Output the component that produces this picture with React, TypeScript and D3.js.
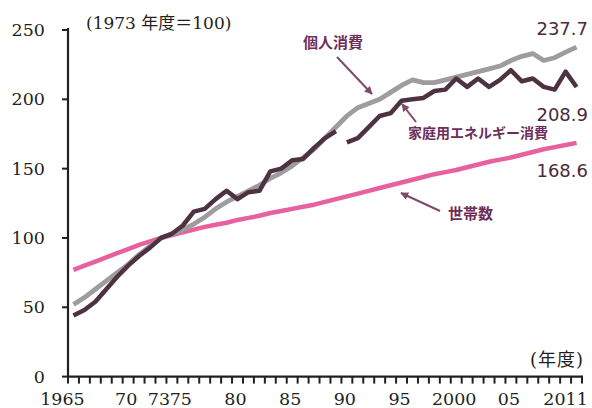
import React, { useEffect, useRef } from 'react'
import * as d3 from 'd3'

const years = d3.range(1965, 2012)

// 個人消費
const personal = [
  52, 57, 63, 69, 75, 81, 88, 94, 100, 103, 106, 110, 115, 121, 126, 130, 134, 138, 143, 147, 152, 158,
  164, 172, 180, 188, 194, 197, 200, 205, 210, 214, 212, 212, 214, 216, 218, 220, 222, 224, 228, 231,
  233, 228, 230, 234, 237.7,
]

// 家庭用エネルギー消費 (1989→1990 で系列が途切れる)
const energyA = [
  44, 48, 54, 63, 72, 80, 87, 93, 100, 103, 109, 119, 121, 128, 134, 128, 133, 134, 148, 150, 156, 157,
  165, 172, 177,
]
const energyB = [
  169, 172, 180, 188, 190, 199, 200, 201, 206, 207, 215, 209, 215, 209, 214, 221, 213, 215, 209, 207,
  220, 208.9,
]

// 世帯数
const households = [
  77, 80, 83, 86, 89, 92, 95, 97.5, 100, 102, 104, 106, 108, 109.5, 111, 113, 114.5, 116, 118, 119.5, 121,
  122.5, 124, 126, 128, 130, 132, 134, 136, 138, 140, 142, 144, 146, 147.5, 149, 151, 153, 155, 156.5,
  158, 160, 162, 164, 165.5, 167, 168.6,
]

const yTicks = [0, 50, 100, 150, 200, 250]
const xLabels = [
  { year: 1965, text: '1965' },
  { year: 1970, text: '70' },
  { year: 1973, text: '73' },
  { year: 1975, text: '75' },
  { year: 1980, text: '80' },
  { year: 1985, text: '85' },
  { year: 1990, text: '90' },
  { year: 1995, text: '95' },
  { year: 2000, text: '2000' },
  { year: 2005, text: '05' },
  { year: 2011, text: '2011' },
]

const serif = '"DejaVu Serif", "Noto Sans CJK JP", serif'
const sans = '"DejaVu Sans", "Noto Sans CJK JP", sans-serif'
const cjk = '"Noto Sans CJK JP", sans-serif'

export default function App() {
  const svgRef = useRef<SVGSVGElement>(null)

  useEffect(() => {
    if (!svgRef.current) return
    const svg = d3.select(svgRef.current)
    svg.selectAll('*').remove()

    const x = d3.scaleLinear().domain([1964.5, 2011.5]).range([68, 582])
    const y = d3.scaleLinear().domain([0, 250]).range([376.6, 30])

    const defs = svg.append('defs')
    defs
      .append('marker')
      .attr('id', 'arrow')
      .attr('viewBox', '0 0 10 10')
      .attr('refX', 9)
      .attr('refY', 5)
      .attr('markerWidth', 4)
      .attr('markerHeight', 4)
      .attr('orient', 'auto')
      .append('path')
      .attr('d', 'M0,0 L10,5 L0,10 z')
      .attr('fill', '#7d4a6c')

    const line = d3
      .line<number>()
      .x((_, i) => x(years[i]))
      .y((d) => y(d))

    // 世帯数
    svg
      .append('path')
      .attr('d', line(households))
      .attr('fill', 'none')
      .attr('stroke', '#e8619f')
      .attr('stroke-width', 4.5)
      .attr('stroke-linejoin', 'round')

    // 個人消費
    svg
      .append('path')
      .attr('d', line(personal))
      .attr('fill', 'none')
      .attr('stroke', '#9d9d9d')
      .attr('stroke-width', 4.8)
      .attr('stroke-linejoin', 'round')

    // 家庭用エネルギー消費
    const lineB = d3
      .line<number>()
      .x((_, i) => x(years[i + energyA.length]))
      .y((d) => y(d))
    ;[line(energyA), lineB(energyB)].forEach((d) => {
      svg
        .append('path')
        .attr('d', d)
        .attr('fill', 'none')
        .attr('stroke', '#4d3341')
        .attr('stroke-width', 4.5)
        .attr('stroke-linejoin', 'round')
    })

    // 軸
    const axisColor = '#231f20'
    svg
      .append('line')
      .attr('x1', 68)
      .attr('x2', 68)
      .attr('y1', y(250) - 2)
      .attr('y2', y(0))
      .attr('stroke', axisColor)
      .attr('stroke-width', 2.2)
    svg
      .append('line')
      .attr('x1', 67)
      .attr('x2', 583)
      .attr('y1', y(0))
      .attr('y2', y(0))
      .attr('stroke', axisColor)
      .attr('stroke-width', 2.2)

    svg
      .selectAll('.ytick')
      .data(yTicks)
      .enter()
      .append('line')
      .attr('x1', 62)
      .attr('x2', 68)
      .attr('y1', (d) => y(d))
      .attr('y2', (d) => y(d))
      .attr('stroke', axisColor)
      .attr('stroke-width', 2)
    svg
      .selectAll('.ylab')
      .data(yTicks)
      .enter()
      .append('text')
      .attr('x', 45)
      .attr('y', (d) => y(d) + 6)
      .attr('text-anchor', 'end')
      .attr('font-family', serif)
      .attr('font-size', 17.5)
      .attr('fill', '#231f20')
      .text((d) => d)

    const bounds = d3.range(1964.5, 2012.5, 1)
    svg
      .selectAll('.xtick')
      .data(bounds)
      .enter()
      .append('line')
      .attr('x1', (d) => x(d))
      .attr('x2', (d) => x(d))
      .attr('y1', y(0))
      .attr('y2', y(0) + 7)
      .attr('stroke', axisColor)
      .attr('stroke-width', 2)

    svg
      .selectAll('.xlab')
      .data(xLabels)
      .enter()
      .append('text')
      .attr('x', (d) => x(d.year) + (d.year === 1965 || d.year === 2011 ? -11 : -2))
      .attr('y', 405)
      .attr('text-anchor', 'middle')
      .attr('font-family', serif)
      .attr('font-size', 17.5)
      .attr('fill', '#231f20')
      .text((d) => d.text)

    svg
      .append('text')
      .attr('x', 584)
      .attr('y', 366)
      .attr('text-anchor', 'end')
      .attr('font-family', serif)
      .attr('font-size', 18)
      .attr('letter-spacing', 1)
      .attr('fill', '#231f20')
      .text('(年度)')

    svg
      .append('text')
      .attr('x', 86)
      .attr('y', 29)
      .attr('font-family', serif)
      .attr('font-size', 17)
      .attr('fill', '#231f20')
      .text('(1973 年度＝100)')

    // 末尾の値
    const last = years.length - 1
    const endLabels = [
      { v: personal[last], dy: -12 },
      { v: energyB[energyB.length - 1], dy: 34 },
      { v: households[last], dy: 34 },
    ]
    svg
      .selectAll('.endlab')
      .data(endLabels)
      .enter()
      .append('text')
      .attr('x', 588)
      .attr('y', (d) => y(d.v) + d.dy)
      .attr('text-anchor', 'end')
      .attr('font-family', sans)
      .attr('font-size', 18)
      .attr('fill', '#4a2a3c')
      .text((d) => d.v.toFixed(1))

    // 注記と矢印
    const annColor = '#6e2e59'
    const notes = [
      { text: '個人消費', tx: 303, ty: 48, size: 15, x1: 337, y1: 57, x2: 372, y2: 94 },
      { text: '家庭用エネルギー消費', tx: 408, ty: 138, size: 14, x1: 416, y1: 122, x2: 402, y2: 104 },
      { text: '世帯数', tx: 448, ty: 219, size: 15, x1: 440, y1: 211, x2: 401, y2: 193 },
    ]
    notes.forEach((n) => {
      svg
        .append('line')
        .attr('x1', n.x1)
        .attr('y1', n.y1)
        .attr('x2', n.x2)
        .attr('y2', n.y2)
        .attr('stroke', '#7d4a6c')
        .attr('stroke-width', 2)
        .attr('marker-end', 'url(#arrow)')
      svg
        .append('text')
        .attr('x', n.tx)
        .attr('y', n.ty)
        .attr('font-family', cjk)
        .attr('font-weight', 'bold')
        .attr('font-size', n.size)
        .attr('fill', annColor)
        .text(n.text)
    })
  }, [])

  return (
    <div style={{ position: 'absolute', left: 0, top: 0 }}>
      <svg ref={svgRef} width={592} height={408} style={{ display: 'block', background: '#fff' }} />
    </div>
  )
}
